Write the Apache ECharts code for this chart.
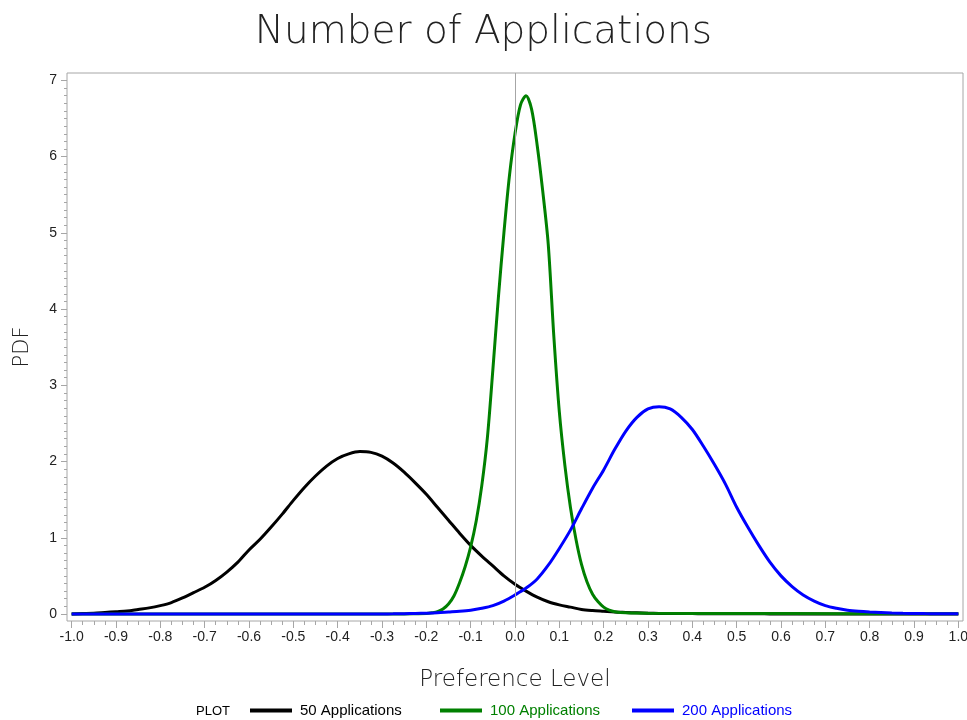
<!DOCTYPE html>
<html lang="en">
<head>
  <meta charset="UTF-8">
  <title>Number of Applications</title>
  <script src="https://cdn.jsdelivr.net/npm/echarts@6/dist/echarts.min.js"></script>
  <style>
    html, body { margin: 0; padding: 0; background: #fff; }
  </style>
</head>
<body>
<div id="main" style="width: 967px;height: 720px;"></div>
<script>
  // x grid shared by the 50 and 200 curves
  var gridX = [-1.000, -0.975, -0.950, -0.925, -0.900, -0.875, -0.850, -0.825, -0.800, -0.775,
    -0.750, -0.725, -0.700, -0.675, -0.650, -0.625, -0.600, -0.575, -0.550, -0.525,
    -0.500, -0.475, -0.450, -0.425, -0.400, -0.375, -0.350, -0.325, -0.300, -0.275,
    -0.250, -0.225, -0.200, -0.175, -0.150, -0.125, -0.100, -0.075, -0.050, -0.025,
    0.000, 0.025, 0.050, 0.075, 0.100, 0.125, 0.150, 0.175, 0.200, 0.225,
    0.250, 0.275, 0.300, 0.325, 0.350, 0.375, 0.400, 0.425, 0.450, 0.475,
    0.500, 0.525, 0.550, 0.575, 0.600, 0.625, 0.650, 0.675, 0.700, 0.725,
    0.750, 0.775, 0.800, 0.825, 0.850, 0.875, 0.900, 0.925, 0.950, 0.975, 1.000];

  var pdf50 = [0.000, 0.005, 0.010, 0.020, 0.030, 0.040, 0.060, 0.080, 0.110, 0.150,
    0.210, 0.280, 0.350, 0.440, 0.550, 0.680, 0.840, 0.980, 1.140, 1.310,
    1.490, 1.660, 1.810, 1.940, 2.040, 2.100, 2.130, 2.120, 2.070, 1.980,
    1.860, 1.720, 1.570, 1.400, 1.230, 1.060, 0.900, 0.760, 0.630, 0.500,
    0.390, 0.300, 0.220, 0.160, 0.120, 0.090, 0.060, 0.045, 0.035, 0.025,
    0.020, 0.015, 0.010, 0.008, 0.006, 0.005, 0.005, 0.004, 0.004, 0.003,
    0.003, 0.002, 0.002, 0.001, 0.001, 0.001, 0.000, 0.000, 0.000, 0.000,
    0.000, 0.000, 0.000, 0.000, 0.000, 0.000, 0.000, 0.000, 0.000, 0.000, 0.000];

  var pdf200 = [0.000, 0.000, 0.000, 0.000, 0.000, 0.000, 0.000, 0.000, 0.000, 0.000,
    0.000, 0.000, 0.000, 0.000, 0.000, 0.000, 0.000, 0.000, 0.000, 0.000,
    0.000, 0.000, 0.000, 0.000, 0.000, 0.000, 0.000, 0.000, 0.001, 0.002,
    0.004, 0.007, 0.010, 0.015, 0.025, 0.035, 0.050, 0.075, 0.110, 0.170,
    0.250, 0.340, 0.460, 0.640, 0.860, 1.100, 1.380, 1.650, 1.890, 2.160,
    2.400, 2.580, 2.690, 2.720, 2.690, 2.580, 2.420, 2.200, 1.960, 1.700,
    1.400, 1.140, 0.900, 0.680, 0.500, 0.360, 0.250, 0.170, 0.110, 0.075,
    0.050, 0.035, 0.025, 0.018, 0.012, 0.009, 0.007, 0.005, 0.004, 0.003, 0.003];

  // 100 applications is narrow, so it gets its own finer x values
  var x100 = [-1.000, -0.500, -0.250, -0.225, -0.2000, -0.1875, -0.1750, -0.1625, -0.1500, -0.1375,
    -0.1250, -0.1125, -0.1000, -0.0875, -0.0750, -0.0625, -0.0500, -0.0375, -0.0250, -0.0125,
    0.0000, 0.0125, 0.0250, 0.0375, 0.0500, 0.0625, 0.0750, 0.0875, 0.1000, 0.1125,
    0.1250, 0.1375, 0.1500, 0.1625, 0.1750, 0.1875, 0.2000, 0.2125, 0.2250, 0.2500,
    0.300, 0.500, 0.750, 1.000];
  var pdf100 = [0.000, 0.000, 0.000, 0.002, 0.005, 0.015, 0.030, 0.065, 0.130, 0.240,
    0.410, 0.620, 0.880, 1.220, 1.680, 2.300, 3.200, 4.150, 5.000, 5.750,
    6.300, 6.680, 6.800, 6.620, 6.150, 5.550, 4.850, 3.650, 2.650, 1.950,
    1.400, 0.980, 0.650, 0.420, 0.260, 0.160, 0.090, 0.050, 0.030, 0.015,
    0.010, 0.006, 0.004, 0.003];

  var xMajor = [];
  for (var i = -10; i <= 10; i++) xMajor.push(i / 10);
  var xMinor = [];
  for (var i = -40; i <= 40; i++) if (i % 4 !== 0) xMinor.push(i / 40);
  var yMajor = [0, 1, 2, 3, 4, 5, 6, 7];
  var yMinor = [];
  for (var i = 0; i <= 70; i++) if (i % 10 !== 0) yMinor.push(i / 10);

  function pairs(xs, ys) {
    var out = [];
    for (var k = 0; k < xs.length; k++) out.push([xs[k], ys[k]]);
    return out;
  }

  var frame = '#a6a6a6';
  var labelFont = 'Liberation Sans';
  var thinFont = 'DejaVu Sans';

  function legendItem(name, color, left) {
    return {
      left: left,
      top: 703,
      padding: 0,
      itemWidth: 42,
      itemHeight: 4,
      icon: 'rect',
      selectedMode: false,
      textStyle: { fontFamily: labelFont, fontSize: 15, color: color, padding: [0, 0, 0, 3] },
      data: [name]
    };
  }

  var myChart = echarts.init(document.getElementById('main'));
  var option = {
    animation: false,
    backgroundColor: '#fff',
    title: {
      text: 'Number of Applications',
      left: 'center',
      top: 8,
      textStyle: { fontFamily: thinFont, fontWeight: 200, fontSize: 39, color: '#222' }
    },
    legend: [
      legendItem('50 Applications', '#000', 250),
      legendItem('100 Applications', '#008000', 440),
      legendItem('200 Applications', '#0000ff', 632)
    ],
    graphic: [{
      type: 'text',
      left: 196,
      top: 705,
      style: { text: 'PLOT', font: '13px "Liberation Sans"', fill: '#000' }
    }],
    grid: {
      left: 67,
      right: 4,
      top: 73,
      bottom: 99,
      outerBoundsMode: 'none',
      show: true,
      borderColor: frame,
      borderWidth: 1
    },
    xAxis: [{
      type: 'value',
      min: -1.0105,
      max: 1.0105,
      name: 'Preference Level',
      nameLocation: 'middle',
      nameGap: 48,
      nameTextStyle: { fontFamily: thinFont, fontWeight: 200, fontSize: 23, color: '#222' },
      axisLine: { show: false, onZero: false },
      splitLine: { show: false },
      axisTick: { show: true, length: 7, customValues: xMajor, lineStyle: { color: frame } },
      axisLabel: {
        customValues: xMajor,
        margin: 9,
        fontFamily: labelFont,
        fontSize: 14,
        color: '#222',
        formatter: function (v) {
          var s = (Math.round(v * 10) / 10).toFixed(1);
          return s === '-0.0' ? '0.0' : s;
        }
      }
    }, {
      type: 'value',
      min: -1.0105,
      max: 1.0105,
      position: 'bottom',
      axisLine: { show: false, onZero: false },
      splitLine: { show: false },
      axisLabel: { show: false },
      axisTick: { show: true, length: 4, customValues: xMinor, lineStyle: { color: frame } }
    }],
    yAxis: [{
      type: 'value',
      min: -0.092,
      max: 7.097,
      name: 'PDF',
      nameLocation: 'middle',
      nameGap: 34,
      nameTextStyle: { fontFamily: thinFont, fontWeight: 200, fontSize: 21, color: '#222' },
      axisLine: { show: false, onZero: false },
      splitLine: { show: false },
      axisTick: { show: true, length: 6, customValues: yMajor, lineStyle: { color: frame } },
      axisLabel: { customValues: yMajor, margin: 10, fontFamily: labelFont, fontSize: 14, color: '#222' }
    }, {
      type: 'value',
      min: -0.092,
      max: 7.097,
      position: 'left',
      axisLine: { show: false, onZero: false },
      splitLine: { show: false },
      axisLabel: { show: false },
      axisTick: { show: true, length: 3, customValues: yMinor, lineStyle: { color: frame } }
    }],
    series: [
      {
        name: '50 Applications',
        type: 'line',
        showSymbol: false,
        smooth: 0.3,
        color: '#000',
        lineStyle: { width: 3, color: '#000' },
        data: pairs(gridX, pdf50),
        markLine: {
          silent: true,
          symbol: 'none',
          label: { show: false },
          lineStyle: { color: frame, width: 1, type: 'solid' },
          data: [{ xAxis: 0 }]
        }
      },
      {
        name: '100 Applications',
        type: 'line',
        showSymbol: false,
        smooth: 0.3,
        color: '#008000',
        lineStyle: { width: 3, color: '#008000' },
        data: pairs(x100, pdf100)
      },
      {
        name: '200 Applications',
        type: 'line',
        showSymbol: false,
        smooth: 0.3,
        color: '#0000ff',
        lineStyle: { width: 3, color: '#0000ff' },
        data: pairs(gridX, pdf200)
      }
    ]
  };
  option && myChart.setOption(option);
</script>
</body>
</html>
